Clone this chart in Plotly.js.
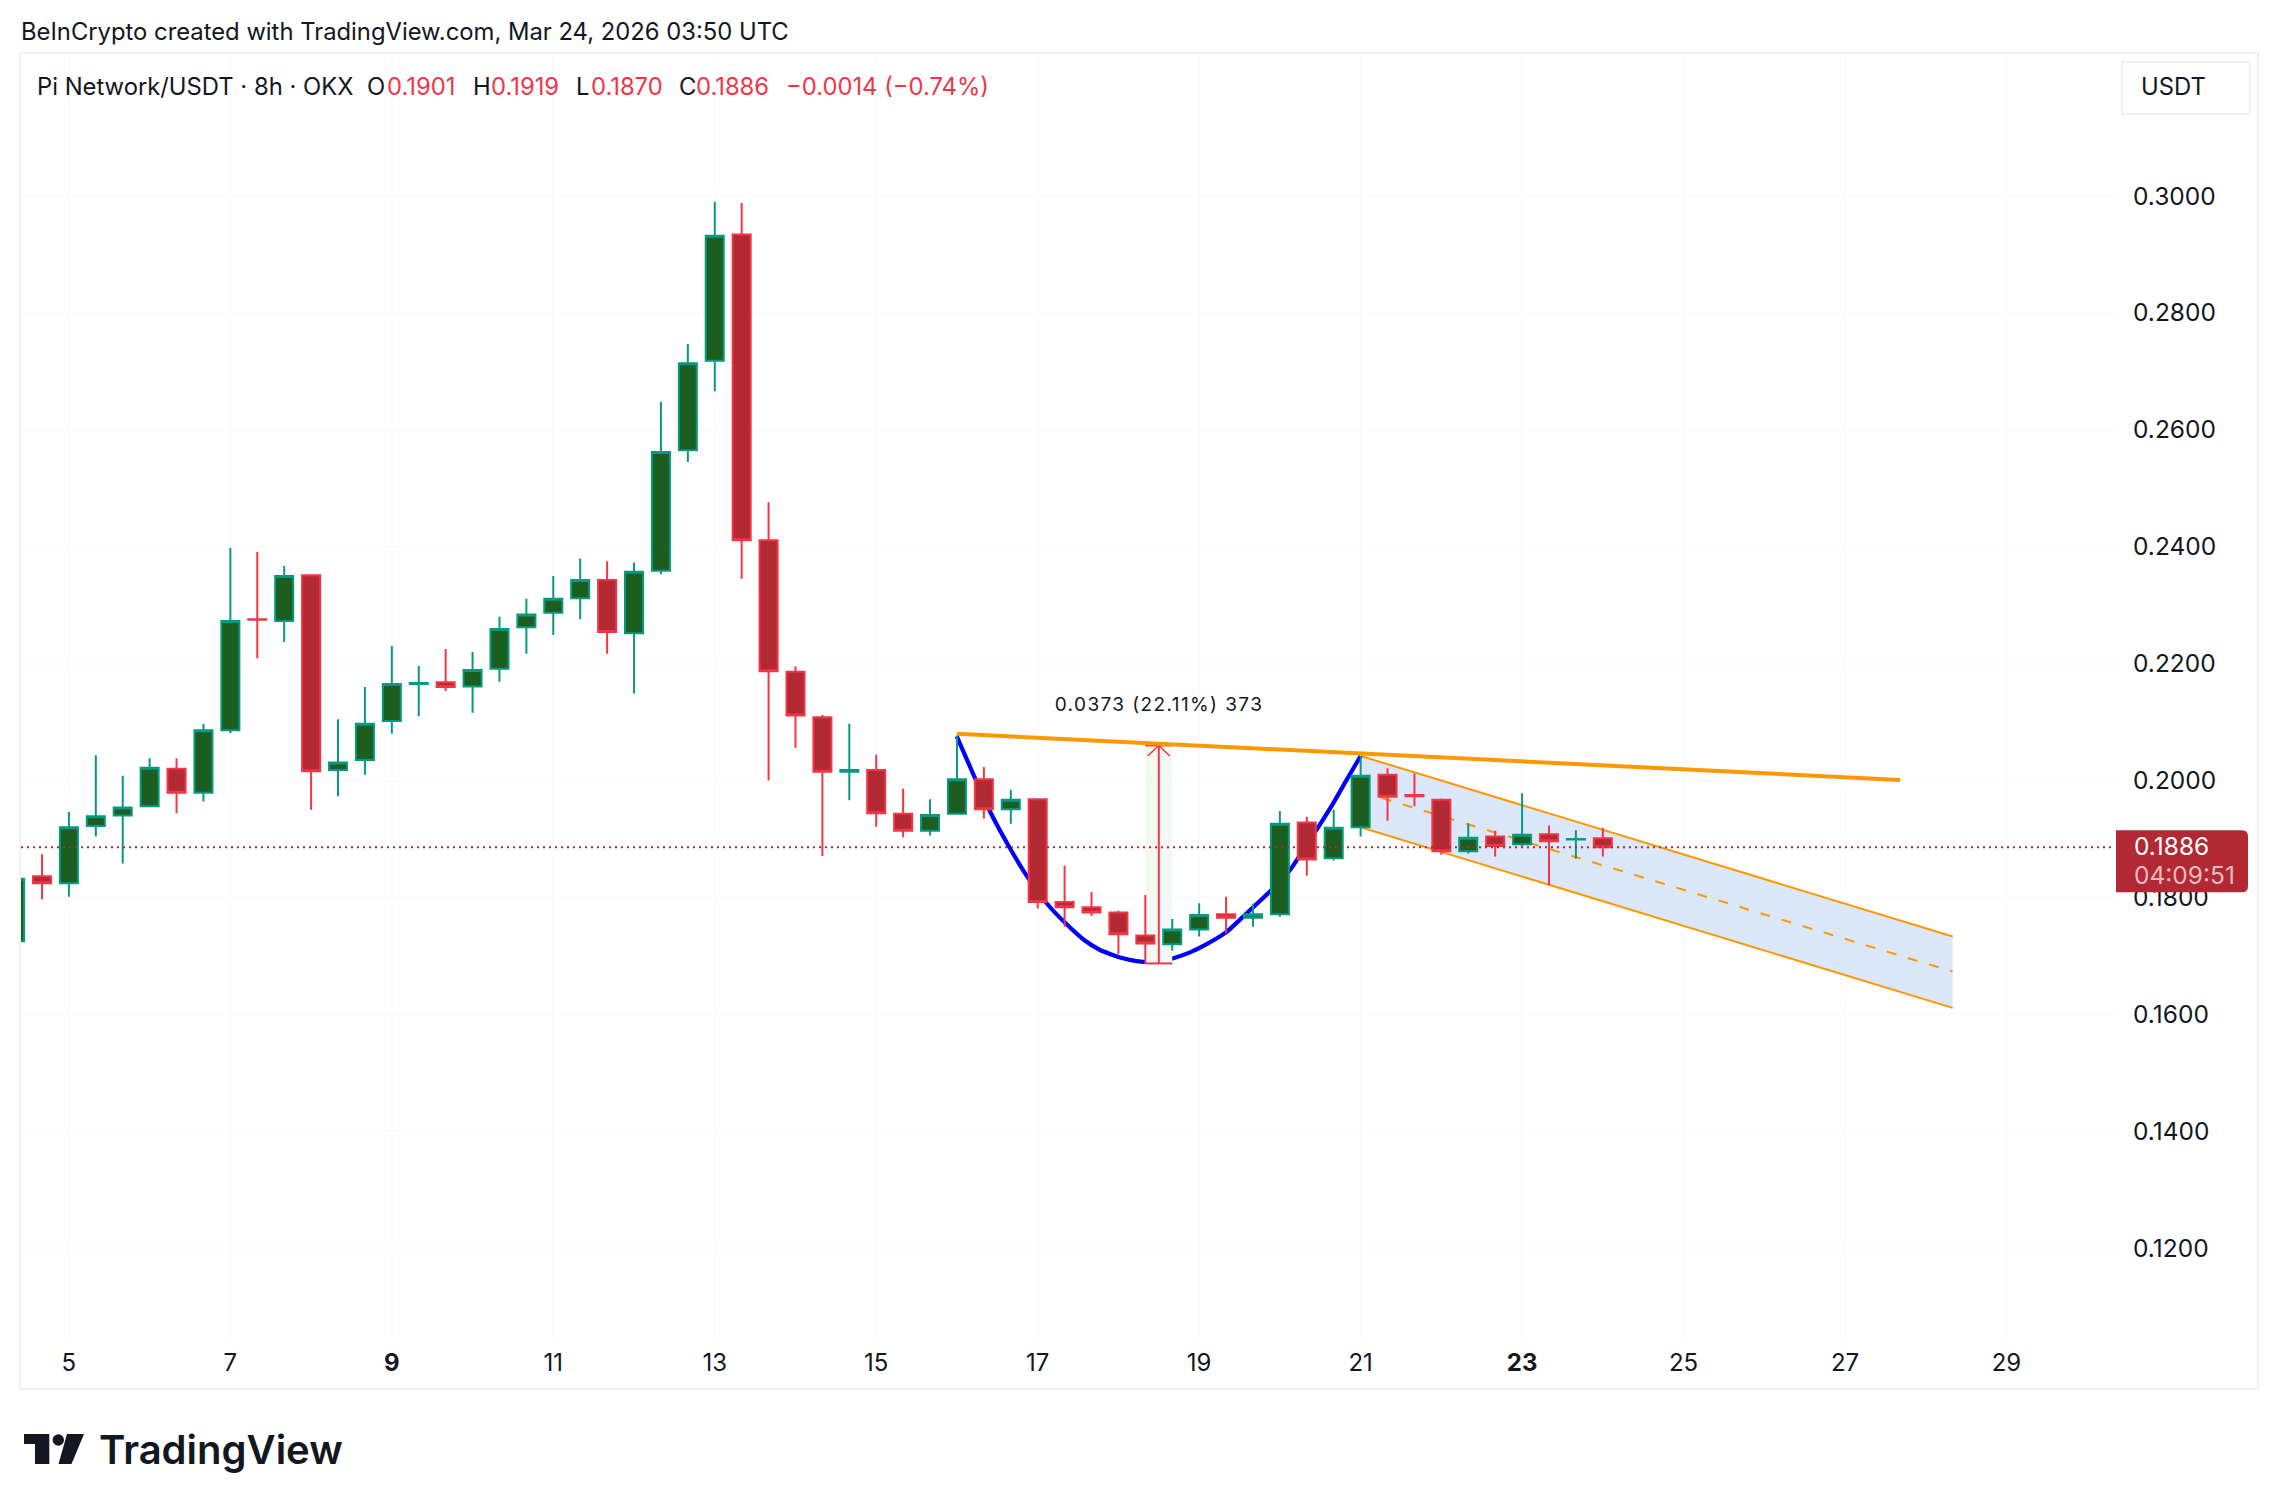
<!DOCTYPE html>
<html><head><meta charset="utf-8">
<script src="https://cdn.plot.ly/plotly-3.0.1.min.js"></script>
<style>html,body{margin:0;padding:0;background:#fff}#chart{width:2278px;height:1510px}</style>
</head><body><div id="chart"></div>
<script>
const opens=[.1725,.1836,.1824,.1922,.1940,.1956,.2020,.1979,.2086,.2276,.2273,.2351,.2018,.2035,.2102,.2165,.2168,.2161,.2191,.2262,.2287,.2312,.2343,.2252,.2359,.2565,.2718,.2934,.2411,.2186,.2108,.2015,.2018,.1943,.1914,.1943,.2002,.1951,.1968,.1792,.1783,.1774,.1735,.1720,.1745,.1771,.1765,.1771,.1928,.1867,.1920,.2010,.1975,.1967,.1879,.1904,.1891,.1908,.1899,.1901];
const highs=[.1834,.1874,.1946,.2043,.2008,.2038,.2038,.2097,.2398,.2391,.2367,.2351,.2105,.2160,.2230,.2196,.2225,.2220,.2280,.2311,.2350,.2380,.2375,.2373,.2648,.2747,.2990,.2988,.2476,.2195,.2112,.2097,.2044,.1986,.1968,.2077,.2023,.1984,.1969,.1854,.1809,.1777,.1804,.1763,.1790,.1801,.1789,.1948,.1938,.1950,.2042,.2021,.2012,.1969,.1927,.1914,.1978,.1923,.1915,.1919];
const lows=[.1722,.1797,.1801,.1904,.1858,.1956,.1944,.1964,.2081,.2209,.2237,.1950,.1973,.2010,.2080,.2110,.2153,.2116,.2169,.2217,.2249,.2276,.2217,.2149,.2353,.2545,.2666,.2345,.2000,.2056,.1871,.1966,.1921,.1903,.1906,.1943,.1935,.1926,.1781,.1750,.1768,.1703,.1687,.1709,.1733,.1739,.1750,.1767,.1837,.1863,.1904,.1931,.1956,.1873,.1875,.1870,.1887,.1821,.1866,.1870];
const closes=[.1832,.1824,.1920,.1939,.1954,.2022,.1979,.2086,.2273,.2275,.2350,.2016,.2031,.2097,.2165,.2167,.2160,.2189,.2259,.2284,.2311,.2343,.2254,.2357,.2562,.2714,.2932,.2411,.2187,.2111,.2015,.2018,.1944,.1914,.1941,.2002,.1951,.1967,.1792,.1783,.1774,.1737,.1721,.1745,.1770,.1765,.1771,.1926,.1865,.1919,.2008,.1972,.1973,.1879,.1902,.1888,.1907,.1896,.1900,.1886];

const priceTicks=[.12,.14,.16,.18,.20,.22,.24,.26,.28,.30];
const dayTicks=[5,7,9,11,13,15,17,19,21,23,25,27,29];
const boldDays=[9,23];

const trendBars=[35,70.05], trendPrices=[.2080,.2001];
const arcBars=[34.99,35.67,36.23,36.97,37.65,38.39,39.03,39.70,40.32,41.06,41.68,42.17,42.55,43.04,43.66,44.28,45.02,45.77,46.63,47.38,48.24,48.98,49.48,50];
const arcPrices=[.2076,.2004,.1947,.1884,.1833,.1787,.1756,.1728,.1710,.1697,.1691,.16895,.1691,.1696,.1706,.1720,.1741,.1773,.1810,.1847,.1907,.1961,.2001,.2042];
const chanBars=[50,72];
const chanUpper=[.2042,.1733], chanMid=[.1981,.1673], chanLower=[.1920,.1611];
const measureBars=[42,43], measureTop=.2060, measureBottom=.1687;
const lastPrice=.1886;

const GREEN_FILL='#1B5E20',GREEN='#089981',RED_FILL='#B22833',RED='#F23645',ORANGE='#FF9800',INK='#131722';
const FONT='Inter, "Liberation Sans", sans-serif';

const W=2278,H=1510,PL=21,PR=2116,PT=54,PB=1338;
const px=x=>(x-PL)/(PR-PL), py=y=>1-(y-PT)/(PB-PT);
const T0=Date.UTC(2026,2,4,8), BAR=8*3600e3;
const t=i=>new Date(T0+i*BAR).toISOString().replace('T',' ').replace('Z','');
const dates=opens.map((_,i)=>t(i));
const line=(x,y,color,width,dash)=>({type:'scatter',mode:'lines',x:x.map(t),y:y,line:{color:color,width:width,dash:dash||'solid'},hoverinfo:'skip',showlegend:false});

const midBar=(measureBars[0]+measureBars[1])/2;
const traces=[
 {type:'scatter',mode:'lines',x:[chanBars[0],chanBars[1],chanBars[1],chanBars[0]].map(t),y:[chanUpper[0],chanUpper[1],chanLower[1],chanLower[0]],fill:'toself',fillcolor:'#DBE8FB',line:{width:0},hoverinfo:'skip',showlegend:false},
 line(chanBars,chanUpper,ORANGE,2),
 line(chanBars,chanLower,ORANGE,2),
 line(chanBars,chanMid,ORANGE,2,'10px,12px'),
 Object.assign(line(arcBars,arcPrices,'#0000FF',4.2),{line:{color:'#0000FF',width:4.2,shape:'spline',smoothing:0.5}}),
 {type:'scatter',mode:'lines',x:[measureBars[0],measureBars[1],measureBars[1],measureBars[0]].map(t),y:[measureTop,measureTop,measureBottom,measureBottom],fill:'toself',fillcolor:'#F2F8F2',line:{width:0},hoverinfo:'skip',showlegend:false},
 line(measureBars,[measureTop,measureTop],RED,2),
 line(measureBars,[measureBottom,measureBottom],RED,2),
 line([midBar,midBar],[measureBottom,measureTop],RED,2),
 line([midBar-.41,midBar,midBar+.41],[measureTop-.0018,measureTop,measureTop-.0018],RED,1.5),
 line(trendBars,trendPrices,ORANGE,4),
 {type:'candlestick',xaxis:'x2',yaxis:'y2',x:dates,open:opens,high:highs,low:lows,close:closes,whiskerwidth:0,
  increasing:{line:{color:GREEN,width:2},fillcolor:GREEN_FILL},
  decreasing:{line:{color:RED,width:2},fillcolor:RED_FILL},
  hoverinfo:'skip',showlegend:false}
];

const label=(text,x,y,size,color,extra)=>Object.assign({xref:'paper',yref:'paper',x:px(x),y:py(y),text:text,showarrow:false,xanchor:'left',yanchor:'middle',font:{family:FONT,size:size,color:color},borderpad:0,align:'left'},extra||{});
const poly=pts=>pts.map((p,i)=>(i?'L':'M')+px(p[0])+','+py(p[1])).join(' ')+' Z';
const paperShape=(o)=>Object.assign({xref:'paper',yref:'paper',layer:'above'},o);

const HS=23.8;
const annotations=[
 label('BeInCrypto created with TradingView.com, Mar 24, 2026 03:50 UTC',20,32,HS,INK),
 label('Pi Network/USDT · 8h · OKX',36,86,HS,INK),
 label('O',366,86,HS,INK),label('0.1901',386,86,HS,RED),
 label('H',472,86,HS,INK),label('0.1919',490,86,HS,RED),
 label('L',575,86,HS,INK),label('0.1870',590,86,HS,RED),
 label('C',678,86,HS,INK),label('0.1886',695,86,HS,RED),
 label('−0.0014 (−0.74%)',785,86,HS,RED),
 label('USDT',2140,87,HS,INK),
 label('0.1886',2133,846,24.5,'#FFFFFF'),
 label('04:09:51',2133,875,24.5,'rgba(255,255,255,0.7)'),
 label('TradingView',98,1449,40,'#131722',{font:{family:FONT,size:40,color:'#131722',weight:600}}),
 {xref:'x',yref:'y',x:t(midBar),y:measureTop,yshift:41,text:'0.0373 (22.11%) 373',showarrow:false,xanchor:'center',yanchor:'middle',font:{family:FONT,size:19,color:INK}}
];

const shapes=[
 paperShape({type:'rect',x0:px(20),x1:px(2258),y0:py(53),y1:py(1389),line:{color:'#F2F2F2',width:2},fillcolor:'rgba(0,0,0,0)',layer:'below'}),
 paperShape({type:'line',x0:0,x1:px(2112),yref:'y',y0:lastPrice,y1:lastPrice,line:{color:'#B22833',width:2,dash:'2px,4px'}}),
 {type:'path',layer:'above',xref:'paper',yref:'y',xsizemode:'pixel',ysizemode:'pixel',xanchor:1,yanchor:lastPrice,
  path:'M0,17 H126 Q132,17 132,11 V-39 Q132,-45 126,-45 H0 Z',fillcolor:'#B22833',line:{width:0}},
 paperShape({type:'rect',x0:px(2122),x1:px(2250),y0:py(62),y1:py(114),line:{color:'#EEEEEE',width:1.5},fillcolor:'rgba(0,0,0,0)'}),
 paperShape({type:'path',path:poly([[24,1434],[49.3,1434],[49.3,1464],[35,1464],[35,1444],[24,1444]]),fillcolor:'#131722',line:{width:0}}),
 paperShape({type:'circle',x0:px(52.6),x1:px(64),y0:py(1434.3),y1:py(1445.7),fillcolor:'#131722',line:{width:0}}),
 paperShape({type:'path',path:poly([[67,1434],[84,1434],[71.5,1464],[58.5,1464]]),fillcolor:'#131722',line:{width:0}})
];

const dayDate=d=>`2026-03-${String(d).padStart(2,'0')}`;
const xRange=[T0+0.22*BAR,T0+78.07*BAR];
const yRange=[0.30-(PB-196)/5845,0.30+(196-PT)/5845];
const layout={
 width:W,height:H,paper_bgcolor:'#fff',plot_bgcolor:'#fff',showlegend:false,
 margin:{l:PL,r:W-PR,t:PT,b:H-PB,pad:0},
 boxgap:0.33,boxgroupgap:0,
 font:{family:FONT,color:INK},
 xaxis:{type:'date',range:xRange,rangeslider:{visible:false},
  tickmode:'array',tickvals:dayTicks.map(dayDate),ticktext:dayTicks.map(d=>boldDays.includes(d)?`<b>${d}</b>`:String(d)),
  tickfont:{family:FONT,size:24,color:INK},ticks:'',ticklabelstandoff:8,showline:false,zeroline:false,showgrid:true,gridcolor:'#FCFCFC',gridwidth:2},
 yaxis:{type:'linear',side:'right',range:yRange,
  tickmode:'array',tickvals:priceTicks,ticktext:priceTicks.map(v=>v.toFixed(4)),
  tickfont:{family:FONT,size:24.5,color:INK},ticks:'',ticklabelstandoff:16,showline:false,zeroline:false,showgrid:true,gridcolor:'#FCFCFC',gridwidth:2},
 xaxis2:{type:'date',overlaying:'x',anchor:'y2',range:xRange,visible:false,rangeslider:{visible:false}},
 yaxis2:{type:'linear',overlaying:'y',side:'right',anchor:'x2',range:yRange,visible:false},
 annotations:annotations,shapes:shapes
};
Plotly.newPlot('chart',traces,layout,{staticPlot:true,displayModeBar:false,responsive:false}).then(gd=>{
 gd.querySelectorAll('.annotation-text').forEach(n=>{ if(n.textContent.startsWith('0.0373')) n.style.letterSpacing='1.4px'; });
});
</script></body></html>
